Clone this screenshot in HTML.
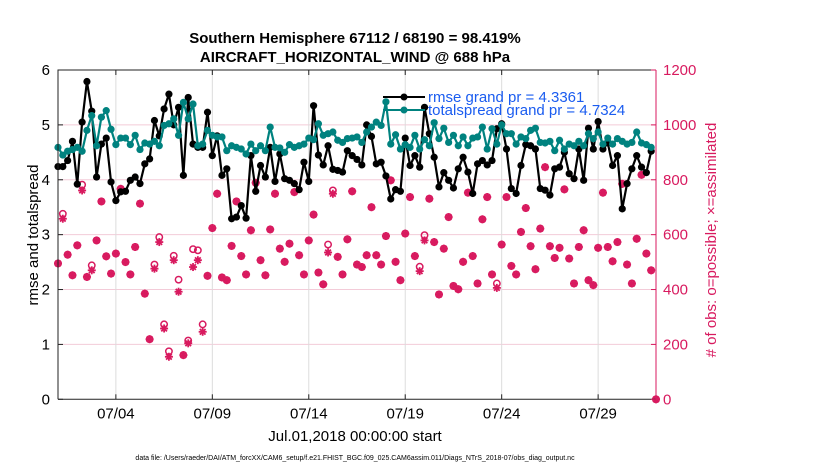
<!DOCTYPE html>
<html><head><meta charset="utf-8"><style>
body{margin:0;background:#fff;}
svg{display:block;font-family:"Liberation Sans",sans-serif;}
</style></head><body>
<svg id="chart" width="830" height="470" xmlns="http://www.w3.org/2000/svg">
<rect width="830" height="470" fill="#fff"/>
<g id="grid"></g>
<g id="marks"></g>
<g id="axes"></g>
<text x="355" y="43" text-anchor="middle" font-size="15" font-weight="bold">Southern Hemisphere 67112 / 68190 = 98.419%</text>
<text x="355" y="62" text-anchor="middle" font-size="15" font-weight="bold">AIRCRAFT_HORIZONTAL_WIND @ 688 hPa</text>
<text transform="translate(38,235) rotate(-90)" text-anchor="middle" font-size="15">rmse and totalspread</text>
<text transform="translate(716,240) rotate(-90)" text-anchor="middle" font-size="15" fill="#d81a5f"># of obs: o=possible; ×=assimilated</text>
<text x="355" y="441" text-anchor="middle" font-size="15">Jul.01,2018 00:00:00 start</text>
<text x="355" y="460" text-anchor="middle" font-size="7">data file: /Users/raeder/DAI/ATM_forcXX/CAM6_setup/f.e21.FHIST_BGC.f09_025.CAM6assim.011/Diags_NTrS_2018-07/obs_diag_output.nc</text>
<g>
<line x1="383" y1="97" x2="425" y2="97" stroke="#000" stroke-width="2"/>
<circle cx="404" cy="97" r="3.5" fill="#000"/>
<text x="428" y="102" font-size="15" fill="#1a5cf0">rmse grand pr = 4.3361</text>
<line x1="383" y1="110" x2="425" y2="110" stroke="#00827f" stroke-width="2"/>
<circle cx="404" cy="110" r="3.5" fill="#00827f"/>
<text x="428" y="115" font-size="15" fill="#1a5cf0">totalspread grand pr = 4.7324</text>
</g>
</svg>
<script>
const rmse=[4.24,4.24,4.35,4.70,3.92,5.05,5.79,5.25,4.05,4.65,4.76,3.96,3.62,3.78,3.79,3.99,4.05,3.93,4.29,4.38,5.08,4.8,5.29,5.56,5.0,5.32,4.08,5.5,4.65,4.59,4.59,5.23,4.44,4.8,4.08,4.2,3.29,3.32,3.53,3.30,4.44,3.79,4.26,4.05,4.59,3.97,4.47,4.02,3.99,3.93,3.82,4.32,3.97,5.35,4.45,4.27,4.62,4.19,4.17,4.14,4.53,4.44,4.37,4.27,5.0,4.79,4.29,4.32,4.07,3.65,3.82,3.79,4.76,4.26,4.44,4.23,5.32,4.84,4.41,3.87,4.13,3.99,3.85,4.2,4.41,4.14,3.75,4.29,4.35,4.27,4.35,4.93,5.02,4.56,3.84,3.75,4.26,4.64,4.62,4.56,3.84,3.81,3.72,4.2,4.23,4.50,4.11,4.02,4.56,3.99,4.94,4.56,5.06,4.56,4.67,4.26,4.44,3.47,3.93,4.2,4.44,4.23,4.13,4.52];
const spread=[4.59,4.45,4.52,4.55,4.59,4.52,4.90,5.17,4.62,5.14,5.26,4.92,4.64,4.76,4.76,4.64,4.81,4.55,4.67,4.65,4.70,4.62,4.99,5.02,5.11,4.81,5.41,5.11,5.38,4.62,4.65,4.90,4.81,4.78,4.78,4.53,4.62,4.59,4.56,4.47,4.65,4.53,4.62,4.53,4.96,4.59,4.58,4.50,4.64,4.59,4.62,4.65,4.76,4.73,5.02,4.81,4.84,4.87,4.72,4.68,4.75,4.76,4.78,4.68,4.87,4.96,5.05,4.99,5.42,4.65,4.82,4.56,4.64,4.59,4.81,4.56,4.73,4.62,5.04,4.75,4.94,4.68,4.81,4.62,4.78,4.62,4.76,4.78,4.96,4.56,4.93,4.65,5.0,4.84,4.84,4.65,4.78,4.75,4.90,4.94,4.68,4.67,4.70,4.53,4.72,4.56,4.65,4.62,4.70,4.62,4.84,4.75,4.87,4.65,4.76,4.65,4.75,4.70,4.65,4.68,4.87,4.67,4.64,4.59];
const obsAssim=[495,658,527,452,561,761,446,470,579,721,521,458,531,767,500,455,555,713,385,219,476,573,258,155,507,392,161,204,482,507,246,450,624,749,444,434,559,721,522,455,616,789,507,452,619,749,549,501,567,755,525,455,579,673,462,419,535,749,519,455,583,758,491,482,525,700,525,491,595,798,501,434,604,737,522,467,579,731,573,382,549,664,413,401,501,753,522,422,656,737,455,406,564,737,486,455,610,697,558,474,622,846,558,515,552,765,513,422,555,616,434,416,552,753,555,503,573,785,491,422,585,818,531,470,0];
const obsPoss=[495,676,527,452,561,782,446,488,579,721,521,458,531,767,500,455,555,713,385,219,491,591,273,175,523,436,161,214,547,543,273,450,624,749,444,434,559,721,522,455,616,789,507,452,619,749,549,501,567,755,525,455,579,673,462,419,564,761,519,455,583,758,491,482,525,700,525,491,595,798,501,434,604,737,522,483,598,731,573,382,549,664,413,401,501,753,522,422,656,737,455,422,564,737,486,455,610,697,558,474,622,846,558,515,552,765,513,422,555,616,434,416,552,753,555,503,573,785,491,422,585,818,531,470,0];
const xTickLabels=["07/04","07/09","07/14","07/19","07/24","07/29"];
const xTickDays=[3,8,13,18,23,28];
const yTicks=[0,1,2,3,4,5,6];
const rTicks=[0,200,400,600,800,1000,1200];

const NS="http://www.w3.org/2000/svg";
const X0=58,X1=656,Y0=399.3,Y1=70;
const dayMax=31;
const xs=d=>X0+(X1-X0)*d/dayMax;
const ys=v=>Y0-(Y0-Y1)*v/6;
const yr=v=>Y0-(Y0-Y1)*v/1200;
const CR="#d81a5f";
function mk(tag,attrs,parent){const e=document.createElementNS(NS,tag);for(const k in attrs)e.setAttribute(k,attrs[k]);parent.appendChild(e);return e;}
const grid=document.getElementById('grid'),marks=document.getElementById('marks'),axes=document.getElementById('axes');

rTicks.forEach(t=>{if(t>0&&t<1200){const l=mk('line',{x1:X0,x2:X1,y1:yr(t),y2:yr(t),stroke:'#f3cbd8','stroke-width':1},grid);

}});
xTickDays.forEach(d=>{const l=mk('line',{x1:xs(d),x2:xs(d),y1:Y1,y2:Y0,stroke:'#dcdcdc','stroke-width':1},grid);

});

function star(cx,cy,g){const r=4;for(let a=0;a<4;a++){const an=a*Math.PI/4;mk('line',{x1:cx-r*Math.cos(an),y1:cy-r*Math.sin(an),x2:cx+r*Math.cos(an),y2:cy+r*Math.sin(an),stroke:CR,'stroke-width':1.8},g);}}
obsAssim.forEach((v,i)=>{const g=mk('g',{},marks);


const cx=xs(i*0.25);star(cx,yr(v),g);mk('circle',{cx:cx,cy:yr(v),r:2.2,fill:CR},g);});
obsPoss.forEach((v,i)=>{const c=mk('circle',{cx:xs(i*0.25),cy:yr(v),r:3.2,fill:'none',stroke:CR,'stroke-width':1.5},marks);

});

function series(arr,color,name){
 const p=mk('polyline',{points:arr.map((v,i)=>xs(i*0.25)+','+ys(v)).join(' '),fill:'none',stroke:color,'stroke-width':2.2,'stroke-linejoin':'round'},marks);
 
 
 arr.forEach((v,i)=>{const c=mk('circle',{cx:xs(i*0.25),cy:ys(v),r:3.6,fill:color},marks);
 
 });
}
series(rmse,'#000','rmse');
series(spread,'#00827f','totalspread');

const fr=mk('path',{d:`M${X0},${Y0}V${Y1}H${X1}`,fill:'none',stroke:'#222','stroke-width':1},axes);


const xa=mk('line',{x1:X0,x2:X1,y1:Y0,y2:Y0,stroke:'#222','stroke-width':1},axes);


const ra=mk('line',{x1:X1,x2:X1,y1:Y1,y2:Y0,stroke:CR,'stroke-width':1},axes);


xTickDays.forEach((d,i)=>{mk('line',{x1:xs(d),x2:xs(d),y1:Y0,y2:Y0-5,stroke:'#222'},axes);mk('line',{x1:xs(d),x2:xs(d),y1:Y1,y2:Y1+5,stroke:'#222'},axes);
 const t=mk('text',{x:xs(d),y:Y0+19,'text-anchor':'middle','font-size':15},axes);t.textContent=xTickLabels[i];
 
 });
yTicks.forEach(v=>{const t=mk('text',{x:X0-8,y:ys(v)+5,'text-anchor':'end','font-size':15},axes);t.textContent=v;
 
 
 mk('line',{x1:X0,x2:X0+5,y1:ys(v),y2:ys(v),stroke:'#222'},axes);});
rTicks.forEach(v=>{const t=mk('text',{x:X1+7,y:yr(v)+5,'font-size':15,fill:CR},axes);t.textContent=v;
 
 
 mk('line',{x1:X1-5,x2:X1,y1:yr(v),y2:yr(v),stroke:CR},axes);});
</script>
</body></html>
